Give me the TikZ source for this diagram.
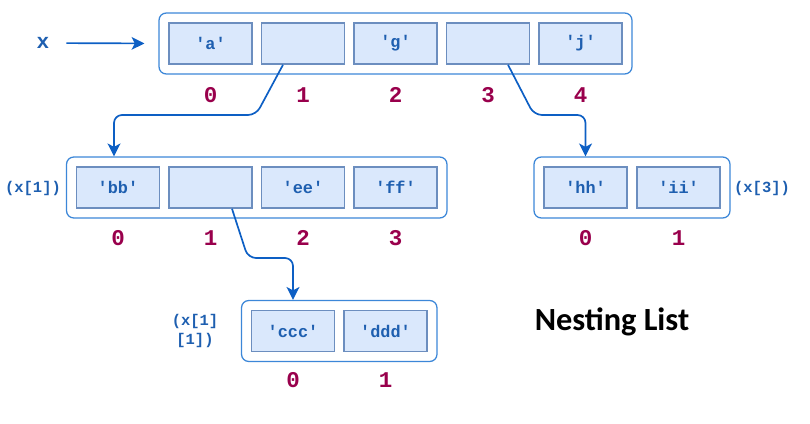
\documentclass[tikz,border=0pt]{standalone}
\usepackage{fontspec}
\setmonofont{Liberation Mono}
\newfontfamily\titlefont{Carlito}
\usetikzlibrary{arrows.meta,calc,fit,backgrounds}

\definecolor{cellfill}{HTML}{DAE8FC}
\definecolor{celledge}{HTML}{6C8EBF}
\definecolor{boxedge}{HTML}{3C87D8}
\definecolor{linkblue}{HTML}{0D5FC4}
\definecolor{textblue}{HTML}{1E5FB0}
\definecolor{idxred}{HTML}{99004C}

\begin{document}
\begin{tikzpicture}[x=0.025cm,y=-0.025cm,
    cell/.style={draw=celledge,fill=cellfill,line width=1.1pt,
        minimum width=2.075cm,minimum height=1.025cm,inner sep=0pt,
        text=textblue,font={\fontsize{12}{14}\selectfont\ttfamily\bfseries}},
    listbox/.style={draw=boxedge,fill=white,line width=0.9pt,
        rounded corners=0.18cm,inner sep=0.23cm},
    idx/.style={text=idxred,font={\fontsize{16}{18}\selectfont\ttfamily\bfseries}},
    listname/.style={text=textblue,font={\fontsize{11}{13.5}\selectfont\ttfamily\bfseries}},
    link/.style={draw=linkblue,line width=1.2pt,rounded corners=0.2cm,
        -{Stealth[length=0.32cm,width=0.32cm,inset=0.08cm]}},
    ]
    \useasboundingbox (0,0) rectangle (810,423);

    % Outer list x
    \foreach \v [count=\i from 0] in {'a',,'g',,'j'}
        \node[cell] (t\i) at (210.5+92.5*\i,43.5) {\v};
    \node[listname,font={\fontsize{15}{17}\selectfont\ttfamily\bfseries}] (xlab) at (43,43) {x};

    % Nested list x[1]
    \foreach \v [count=\i from 0] in {'bb',,'ee','ff'}
        \node[cell] (l\i) at (118+92.5*\i,187.5) {\v};
    \node[listname] (llab) at (33,188) {(x[1])};

    % Nested list x[3]
    \foreach \v [count=\i from 0] in {'hh','ii'}
        \node[cell] (r\i) at (585.5+93*\i,187.5) {\v};
    \node[listname] (rlab) at (762,188) {(x[3])};

    % Nested list x[1][1]
    \foreach \v [count=\i from 0] in {'ccc','ddd'}
        \node[cell] (b\i) at (293+92.5*\i,331) {\v};
    \node[listname,align=center] (blab) at (195,331) {(x[1]\\\relax[1])};

    % Boxes round the cells
    \begin{scope}[on background layer]
        \node[listbox,fit=(t0)(t4)] (tbox) {};
        \node[listbox,fit=(l0)(l3)] (lbox) {};
        \node[listbox,fit=(r0)(r1)] (rbox) {};
        \node[listbox,fit=(b0)(b1)] (bbox) {};
    \end{scope}

    % Indices
    \foreach \i in {0,...,4}
        \node[idx] (ti\i) at ($(t\i)+(0,51.5)$) {\i};
    \foreach \i in {0,...,3}
        \node[idx] (li\i) at ($(l\i)+(0,50.5)$) {\i};
    \foreach \i in {0,1}
        \node[idx] (ri\i) at ($(r\i)+(0,50.5)$) {\i};
    \foreach \i in {0,1}
        \node[idx] (bi\i) at ($(b\i)+(0,49)$) {\i};

    % Title
    \node[font={\fontsize{23}{26}\selectfont\titlefont\bfseries}] (title) at (612,322) {Nesting List};

    % Links
    \coordinate (bendl) at (256,115);
    \coordinate (bendr) at (534,115);
    \coordinate (bendb) at (248,258);
    \draw[link,shorten <=0.3cm,shorten >=0.35cm] (xlab) -- (tbox.west);
    \draw[link] ($(t1.south)+(-20,0)$) -- (bendl) -| ($(l0.north |- lbox.north)+(-4,0)$);
    \draw[link] ($(t3.south)+(20,0)$) -- (bendr) -| (r0.north |- rbox.north);
    \draw[link] ($(l1.south)+(21.5,0)$) -- (bendb) -| (b0.north |- bbox.north);
\end{tikzpicture}
\end{document}
